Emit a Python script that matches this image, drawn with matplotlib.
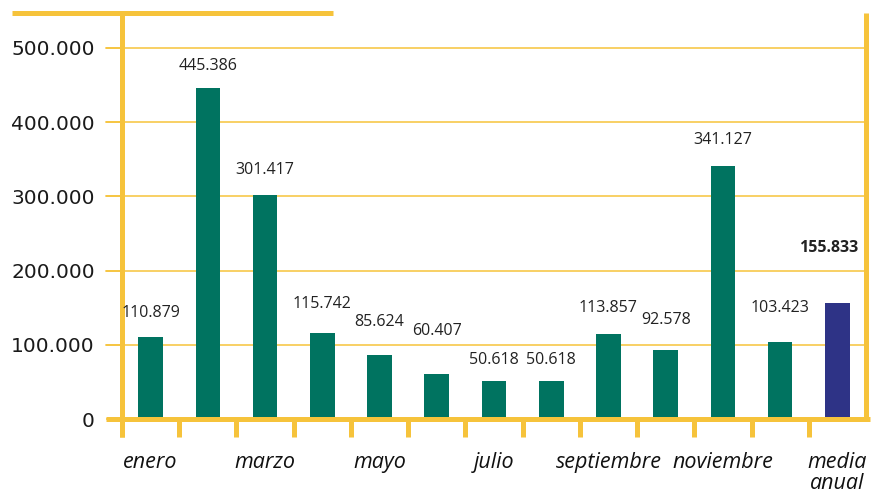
import numpy as np
import matplotlib
matplotlib.use('Agg')
import matplotlib.pyplot as plt

# datos
meses = ['enero', 'febrero', 'marzo', 'abril', 'mayo', 'junio', 'julio',
         'agosto', 'septiembre', 'octubre', 'noviembre', 'diciembre',
         'media\nanual']
valores = [110879, 445386, 301417, 115742, 85624, 60407, 50618,
           50618, 113857, 92578, 341127, 103423, 155833]
etiquetas_x = ['enero', '', 'marzo', '', 'mayo', '', 'julio', '',
               'septiembre', '', 'noviembre', '', 'media\nanual']

# estilo
amarillo = '#F6C33B'
verde = '#007360'
azul = '#2E3386'
# separacion vertical (pixeles) de cada etiqueta respecto a la barra
sep = [24, 22, 25, 29, 33, 43, 21, 21, 26, 30, 26, 34, 55]

fig = plt.figure(figsize=(8.71, 4.94), dpi=100)
ax = fig.add_axes([122/871, 75/494, 744/871, 406/494])

x = np.arange(len(valores)) + 0.5
colores = [verde]*(len(valores)-1) + [azul]
ax.bar(x, valores, width=0.43, color=colores, zorder=3)

ax.set_xlim(0, 13)
ax.set_ylim(0, 547000)

for sp in ax.spines.values():
    sp.set_visible(False)

# rejilla
yt = [0, 100000, 200000, 300000, 400000, 500000]
ax.set_yticks(yt)
ax.set_yticklabels([f'{v:,.0f}'.replace(',', '.') for v in yt],
                   fontsize=14.5, family='DejaVu Sans', color='#1a1a1a')
ax.tick_params(axis='y', length=11.5, width=1.1, color=amarillo, pad=8)
for v in yt[1:]:
    ax.plot([-0.28, 13], [v, v], color=amarillo, lw=1.1, clip_on=False,
            zorder=1)

# ejes gruesos
ax.plot([-0.28, 13.07], [0, 0], color=amarillo, lw=3.6, clip_on=False,
        zorder=4, solid_capstyle='butt')
ax.plot([0, 0], [-0.0443, 1], transform=ax.transAxes, color=amarillo,
        lw=3.6, clip_on=False, zorder=4, solid_capstyle='butt')
ax.plot([1, 1], [0, 1], transform=ax.transAxes, color=amarillo,
        lw=3.6, clip_on=False, zorder=4, solid_capstyle='butt')
ax.plot([-0.148, 0.2836], [1, 1], transform=ax.transAxes, color=amarillo,
        lw=3.6, clip_on=False, zorder=4, solid_capstyle='butt')

# marcas del eje x
ax.set_xticks(np.arange(0, 13), minor=True)
ax.tick_params(axis='x', which='minor', length=13, width=3.6,
               color=amarillo, direction='out')
ax.set_xticks(x)
ax.set_xticklabels(etiquetas_x, fontsize=15.5, style='italic',
                   family='Open Sans', linespacing=0.95, color='#111111')
ax.tick_params(axis='x', which='major', length=0, pad=24)

# etiquetas de valores
for i, v in enumerate(valores):
    txt = f'{v:,.0f}'.replace(',', '.')
    peso = 'bold' if i == len(valores)-1 else 'normal'
    dx = -9 if i == len(valores)-1 else 0
    ax.annotate(txt, (x[i], v), xytext=(dx, sep[i]),
                textcoords='offset pixels', ha='center', va='center',
                fontsize=11.5, family='Open Sans', fontweight=peso,
                color='#222222', zorder=5)

plt.savefig('out.png', dpi=100)
